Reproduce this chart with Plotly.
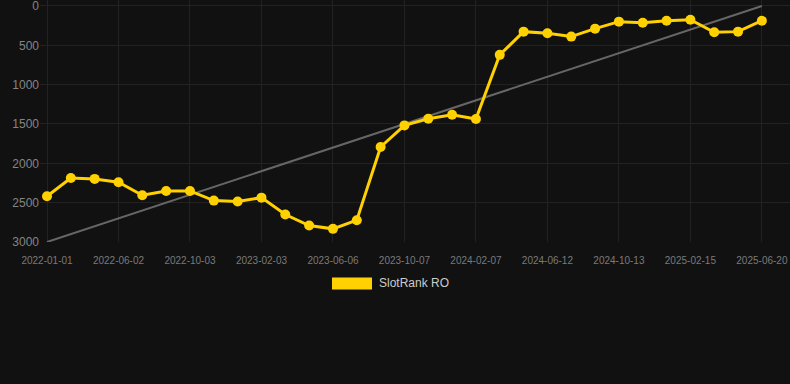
import plotly.graph_objects as go

dates = [
    "2022-01-01", "2022-02-20", "2022-04-11", "2022-06-02", "2022-07-13", "2022-08-23",
    "2022-10-03", "2022-11-13", "2022-12-24", "2023-02-03", "2023-03-16", "2023-04-26",
    "2023-06-06", "2023-07-17", "2023-08-27", "2023-10-07", "2023-11-17", "2023-12-28",
    "2024-02-07", "2024-03-19", "2024-05-01", "2024-06-12", "2024-07-23", "2024-09-02",
    "2024-10-13", "2024-11-23", "2025-01-04", "2025-02-15", "2025-03-28", "2025-05-09",
    "2025-06-20",
]
rank = [2419, 2186, 2198, 2241, 2406, 2351, 2351, 2474, 2486, 2436, 2651, 2791,
        2833, 2723, 1792, 1518, 1433, 1383, 1437, 621, 326, 346, 389, 288,
        199, 212, 187, 174, 334, 326, 187]
trend_x = [dates[0], dates[-1]]
trend_y = [3000, 0]
tick_labels = dates[::3]
y_ticks = [0, 500, 1000, 1500, 2000, 2500, 3000]

series_name = "SlotRank RO"
yellow = "#FFD100"

fig = go.Figure()
fig.add_trace(go.Scatter(
    x=trend_x, y=trend_y, mode="lines",
    line=dict(color="#666666", width=2), hoverinfo="skip", showlegend=False,
))
fig.add_trace(go.Scatter(
    x=dates, y=rank, mode="lines+markers", name=series_name,
    line=dict(color=yellow, width=3),
    marker=dict(color=yellow, size=10),
    cliponaxis=False, showlegend=False,
))

L, R, T, B = 40, 0, 0, 141.5
W, H = 790, 384
pw, ph = W - L - R, H - T - B

def px_x(p):
    return (p - L) / pw

def px_y(p):
    return (H - B - p) / ph

fig.add_shape(type="rect", xref="paper", yref="paper",
              x0=px_x(332), x1=px_x(372), y0=px_y(290), y1=px_y(278),
              fillcolor=yellow, line=dict(width=0))
fig.add_annotation(xref="paper", yref="paper", x=px_x(377), y=px_y(284),
                   text=series_name, showarrow=False, xanchor="left", yanchor="middle",
                   font=dict(size=12, color="#cccccc", family="Liberation Sans, Arial"))

fig.update_layout(
    width=W, height=H,
    margin=dict(l=L, r=R, t=T, b=B),
    paper_bgcolor="#111111", plot_bgcolor="#111111",
    font=dict(family="Liberation Sans, Arial", color="#808080"),
    showlegend=False,
)
fig.update_xaxes(
    type="category", categoryorder="array", categoryarray=dates,
    range=[-0.294, 31.18],
    tickmode="array", tickvals=tick_labels, ticktext=tick_labels,
    tickfont=dict(size=10, color="#7a7a7a"),
    ticklabelstandoff=11,
    showgrid=True, gridcolor="#222222", gridwidth=1,
    zeroline=False, showline=False, ticks="",
)
fig.update_yaxes(
    range=[3000, -76.1], tickmode="array", tickvals=y_ticks,
    tickfont=dict(size=12, color="#858585"),
    ticklabeloverflow="allow",
    showgrid=True, gridcolor="#222222", gridwidth=1,
    zeroline=False, showline=False, ticks="",
)

fig.write_html("out.html")
